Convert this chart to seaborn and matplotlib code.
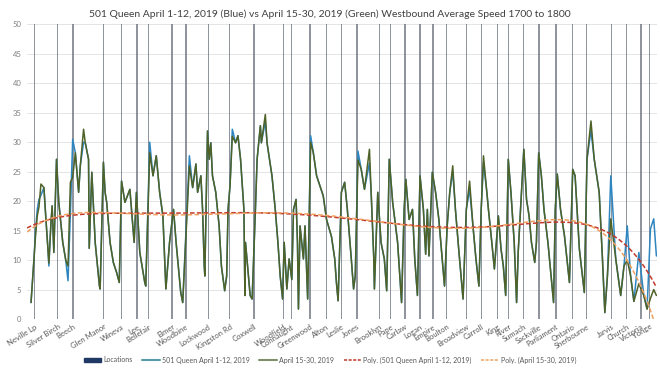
import numpy as np
import pandas as pd
import seaborn as sns
import matplotlib
matplotlib.use("Agg")
import matplotlib.pyplot as plt
from matplotlib.patches import Patch
from matplotlib.lines import Line2D

# ---------------- data ----------------
locations = ["Neville Lp", "Silver Birch", "Beech", "Glen Manor", "Wineva", "Lee", "Bellefair",
             "Elmer", "Woodbine", "Lockwood", "Kingston Rd", "Coxwell", "Woodfield", "Connaught",
             "Greenwood", "Alton", "Leslie", "Jones", "Brooklyn", "Pape", "Carlaw", "Logan",
             "Empire", "Boulton", "Broadview", "Carroll", "King", "River", "Sumach", "Sackville",
             "Parliament", "Ontario", "Sherbourne", "Jarvis", "Church", "Victoria", "Yonge"]
location_pos = [3.7, 27, 42.3, 73.3, 91.3, 106.7, 118.7, 142.3, 156.3, 178.7, 200.3, 225,
                254.7, 262.7, 281.3, 297.7, 313, 328.7, 351.3, 362.3, 377, 392.3, 405.3, 419.3,
                439.3, 454.3, 470.7, 481.3, 496.7, 512.3, 529.3, 546.3, 560.3, 585.3, 600.7,
                615, 623.7]

distance = [
    0, 3, 4.5, 6.3, 8, 10, 13, 15, 17, 18,
    20, 21.3, 23, 25.7, 28, 32, 35, 37.3, 39.7, 42,
    44.7, 48, 49.7, 53, 54.7, 58, 58.7, 61.3, 64.7, 69,
    69.7, 73, 74.7, 76.3, 79.7, 83, 86.3, 89, 91.3, 94.7,
    99.7, 101.3, 104, 106.3, 109.7, 114.7, 115.7, 119.7, 123, 126.3,
    129.7, 133, 136, 139.7, 143.7, 146.3, 151, 153, 159.7, 163,
    166.3, 168, 171.3, 173, 174.7, 175.3, 176.3, 178, 179.7, 181.3,
    183, 186.3, 189.7, 192, 195.3, 197.3, 198.7, 200.7, 203, 206.3,
    208.7, 211.3, 214.7, 215.7, 216.3, 221, 223, 226.3, 228, 231.3,
    232.3, 236.3, 238, 243, 246.3, 249, 251.3, 253.7, 255.3, 258,
    260.3, 263, 264.7, 267.3, 268.7, 269.7, 271.3, 274.7, 276.3, 279,
    282, 284.7, 288, 294.7, 298, 303, 306.3, 308, 309.7, 313,
    316.3, 319, 323, 325.3, 327, 329.7, 333, 336.3, 341.3, 343,
    345.7, 346.3, 349.7, 353, 356.3, 358.7, 361.3, 364.7, 369.7, 373.7,
    376.3, 378, 381.3, 384.7, 387, 389.7, 392.3, 395.7, 398, 399.7,
    401.3, 404.7, 408, 411.3, 414.7, 417, 419.7, 422.3, 425.3, 428,
    431.3, 435.7, 439, 442.3, 445.7, 448.7, 451.7, 454, 456.3, 459.7,
    461.3, 464.7, 467.3, 471.3, 474, 476.3, 478.7, 481.3, 484, 487.3,
    489.7, 491.3, 497, 499.7, 502.3, 504.7, 508, 509.7, 512, 514.7,
    517.3, 521.3, 527, 528.7, 530.7, 534, 538, 543, 546.3, 548.7,
    553, 558, 560.7, 564.7, 568, 573, 576.3, 578.7, 581.3, 584.7,
    589.7, 594.7, 598, 601.3, 604.7, 608, 613, 618, 621.3, 624.7,
    628, 630.7]

speed_apr1_12 = [
    2.8, 10.2, 15, 18.6, 20.3, 21, 22.3, 17, 12, 9.0,
    16, 19.2, 11.3, 27.1, 19.8, 13, 10, 6.5, 18, 30.5,
    28.2, 21.5, 26, 30, 29.9, 27.1, 12, 24.9, 13, 5.6,
    5.1, 26.6, 21.5, 19.8, 13, 9.6, 7.9, 6.2, 23.4, 19.8,
    22, 18.6, 13, 21.5, 11.3, 6.2, 5.6, 30, 24.3, 27.7,
    21.5, 17.5, 5.1, 13, 18.6, 13, 4.5, 2.8, 27.7, 22.3,
    26.3, 21.5, 24.3, 18.6, 9.0, 7.3, 16.9, 31.9, 27.1, 29.9,
    24.3, 21.5, 15.8, 9.0, 4.8, 7.3, 18.6, 22.6, 32.2, 29.9,
    31.1, 27.1, 18.6, 4.0, 13, 4.0, 3.4, 18.6, 27.1, 32.8,
    29.9, 33.5, 29.9, 24.3, 18.6, 13, 7.3, 3.4, 13, 5.1,
    10.2, 6.7, 18.6, 20.3, 13, 1.7, 15.8, 10.2, 15.8, 3.4,
    31.1, 28.2, 24.3, 20.9, 16.9, 14, 10.2, 6.2, 3.1, 21.5,
    23.2, 18.6, 10.2, 5.1, 7.3, 28.5, 25.4, 22, 26.5, 21.5,
    10.2, 5.1, 21.5, 13, 10.2, 4.8, 27.1, 19.8, 13, 2.8,
    18.6, 23.7, 16.9, 18.6, 10.2, 4.0, 24.3, 18.6, 11, 18.6,
    10.7, 24.9, 21.5, 16.9, 10.2, 5.6, 15.8, 21.5, 25, 18.6,
    11.9, 3.4, 18.6, 22, 15.8, 10.2, 5.6, 18.6, 26.5, 21.5,
    18.6, 13, 8.5, 17.5, 11.9, 9.0, 4.0, 27.1, 21.5, 13,
    2.8, 11.3, 28.8, 20.3, 17.5, 13, 9.6, 13, 28.2, 24.3,
    18.6, 13, 2.8, 18.6, 24.6, 18.6, 14.1, 6.2, 25.4, 24.3,
    11.9, 4.5, 27.1, 32, 27.1, 21.5, 10.2, 1.1, 7.3, 24.3,
    10.2, 4, 9, 15.8, 7.3, 3.0, 11.3, 4, 1.7, 15.3,
    17, 10.7]

speed_apr15_30 = [
    2.8, 10.2, 14, 17.5, 19, 22.9, 22.3, 17, 12, 9.5,
    16, 19.2, 11.3, 27.1, 19.8, 13, 10, 9, 23.2, 24,
    28.2, 21.5, 26, 32.2, 29.9, 27.1, 12, 24.9, 13, 5.6,
    5.1, 26.6, 21.5, 19.8, 13, 9.6, 7.9, 6.2, 23.4, 19.8,
    22, 18.6, 13, 21.5, 11.3, 6.2, 5.6, 28.2, 24.3, 27.7,
    21.5, 17.5, 5.1, 13, 18.6, 13, 4.5, 2.8, 26, 22.3,
    26.3, 21.5, 24.3, 18.6, 9.0, 7.3, 16.9, 31.9, 27.1, 29.9,
    24.3, 21.5, 15.8, 9.0, 4.8, 7.3, 18.6, 22.6, 31, 29.9,
    31.1, 27.1, 18.6, 4.0, 13, 4.0, 3.4, 18.6, 27.1, 32.8,
    29.9, 34.7, 29.9, 24.3, 18.6, 13, 7.3, 3.4, 13, 5.1,
    10.2, 6.7, 18.6, 20.3, 13, 1.7, 15.8, 10.2, 15.8, 3.4,
    30, 28.2, 24.3, 20.9, 16.9, 14, 10.2, 6.2, 3.1, 21.5,
    23.2, 18.6, 10.2, 5.1, 7.3, 27, 25.4, 22, 28.8, 21.5,
    10.2, 5.1, 21.5, 13, 10.2, 4.8, 27.1, 19.8, 13, 2.8,
    18.6, 23.7, 16.9, 18.6, 10.2, 4.0, 24.3, 18.6, 11, 18.6,
    10.7, 24.9, 21.5, 16.9, 10.2, 5.6, 15.8, 21.5, 26, 18.6,
    11.9, 3.4, 18.6, 23.4, 15.8, 10.2, 5.6, 18.6, 27.7, 21.5,
    18.6, 13, 8.5, 17.5, 11.9, 9.0, 4.0, 27.1, 21.5, 13,
    2.8, 11.3, 28.8, 20.3, 17.5, 13, 9.6, 13, 28.2, 24.3,
    18.6, 13, 2.8, 18.6, 24.6, 18.6, 14.1, 6.2, 25.4, 24.3,
    11.9, 4.5, 27.1, 33.6, 27.1, 21.5, 10.2, 1.1, 7.3, 17,
    10.2, 4, 9, 10, 7.3, 3.0, 6, 4, 1.7, 3.5,
    5, 4]

BLUE = "#2e86c1"
GREEN = "#4f6228"
RED = "#c0392b"
ORANGE = "#f0a060"
NAVY = "#1f3864"
BAR_GREY = "#6a717c"

# ---------------- plot ----------------
sns.set_theme(style="white")
plt.rcParams['font.family'] = ['Lato', 'DejaVu Sans']

fig = plt.figure(figsize=(6.6, 3.68), dpi=100)
ax = fig.add_axes([0.041, 0.133, 0.954, 0.801])

df = pd.DataFrame({"distance": distance, "blue": speed_apr1_12, "green": speed_apr15_30})

ax.bar(location_pos, [50] * len(location_pos), width=1.4, color=BAR_GREY, alpha=0.75,
       linewidth=0, zorder=1)

sns.lineplot(data=df, x="distance", y="blue", ax=ax, color=BLUE, linewidth=1.1, zorder=3)
sns.lineplot(data=df, x="distance", y="green", ax=ax, color=GREEN, linewidth=1.1, zorder=4)

# polynomial trendlines (order 6) computed from the series
xs = np.array(distance, dtype=float)
xfit = np.linspace(-4, 630.7, 300)
for col, c in (("blue", RED), ("green", ORANGE)):
    grid = np.linspace(xs.min(), xs.max(), 600)
    yg = np.interp(grid, xs, df[col].values)
    coef = np.polyfit(grid / 100.0, yg, 6)
    yfit = np.polyval(coef, xfit / 100.0)
    tdf = pd.DataFrame({"x": xfit, "y": yfit})
    sns.lineplot(data=tdf, x="x", y="y", ax=ax, color=c, linewidth=1.1,
                 linestyle=(0, (3, 1.5)), zorder=5)

ax.set_xlim(-4, 631)
ax.set_ylim(0, 50)
ax.set_yticks(np.arange(0, 51, 5))
ax.yaxis.grid(True, color="#e4e4e4", linewidth=0.7)
ax.set_axisbelow(True)
for s in ax.spines.values():
    s.set_visible(False)
ax.tick_params(axis="y", labelsize=5.5, labelcolor="#7f7f7f", length=0, pad=4)
ax.set_xticks(location_pos)
ax.set_xticklabels(locations, rotation=32, ha="right", rotation_mode="anchor",
                   fontsize=5.5, color="#595959")
ax.tick_params(axis="x", length=0, pad=3)
ax.set_xlabel("")
ax.set_ylabel("")

fig.suptitle("501 Queen April 1-12, 2019 (Blue) vs April 15-30, 2019 (Green) Westbound Average Speed 1700 to 1800",
             fontsize=7.5, color="#404040", y=0.975)

handles = [Patch(facecolor=NAVY, edgecolor=NAVY),
           Line2D([0], [0], color="#5b9ba8", lw=1.5),
           Line2D([0], [0], color="#7f8f6a", lw=1.5),
           Line2D([0], [0], color=RED, lw=1.1, linestyle=(0, (2, 1))),
           Line2D([0], [0], color=ORANGE, lw=1.1, linestyle=(0, (2, 1)))]
labels = ["Locations", "501 Queen April 1-12, 2019", "April 15-30, 2019",
          "Poly. (501 Queen April 1-12, 2019)", "Poly. (April 15-30, 2019)"]
fig.legend(handles, labels, loc="lower center", bbox_to_anchor=(0.5, -0.005), ncol=5,
           frameon=False, fontsize=5.0, handlelength=2.5, handleheight=0.6,
           handletextpad=0.3, columnspacing=1.4, labelcolor="#595959")

fig.savefig("out.png", dpi=100)
